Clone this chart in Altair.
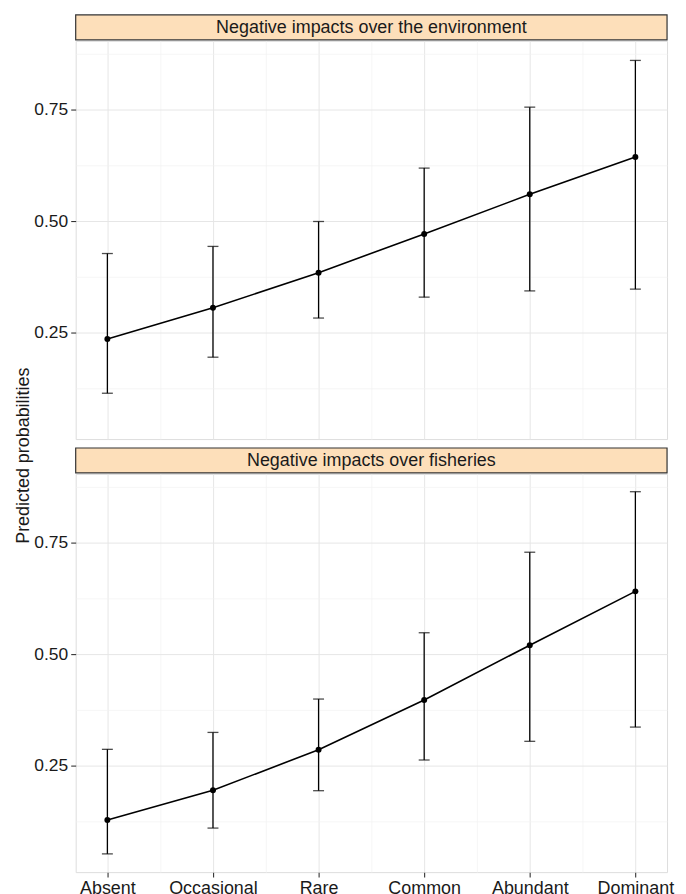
import altair as alt
import pandas as pd

FONT = "Liberation Sans, Arial, Helvetica, sans-serif"

categories = ["Absent", "Occasional", "Rare", "Common", "Abundant", "Dominant"]
panel_titles = ["Negative impacts over the environment", "Negative impacts over fisheries"]

env_mean = [0.235, 0.305, 0.384, 0.471, 0.560, 0.644]
env_lower = [0.113, 0.194, 0.282, 0.329, 0.343, 0.347]
env_upper = [0.427, 0.443, 0.499, 0.619, 0.756, 0.861]

fish_mean = [0.127, 0.194, 0.285, 0.397, 0.520, 0.641]
fish_lower = [0.051, 0.109, 0.193, 0.262, 0.304, 0.336]
fish_upper = [0.286, 0.324, 0.399, 0.548, 0.729, 0.865]

y_major = [0.25, 0.50, 0.75]
y_minor = [0.125, 0.375, 0.625, 0.875]
y_domain = [0.01, 0.905]
x_major = list(range(len(categories)))
x_minor = [i + 0.5 for i in range(len(categories) - 1)]
x_domain = [-0.3, len(categories) - 1 + 0.3]

W, H, STRIP = 594, 400, 26
STRIP_FILL = "#FDDFBA"

MAJ_GRID = "#e6e6e6"
MIN_GRID = "#f2f2f2"

cat_js = "[" + ",".join("'" + c + "'" for c in categories) + "]"
X_MINOR_TEST = "datum.value % 1 != 0"
Y_MINOR_TEST = "(datum.value * 8) % 2 == 1"


def x_axis(show):
    return alt.Axis(
        values=x_major + x_minor,
        labelExpr="datum.value % 1 == 0 ? " + cat_js + "[datum.value] : ''",
        labels=show,
        ticks=show,
        domain=False,
        title=None,
        grid=True,
        gridColor={"condition": {"test": X_MINOR_TEST, "value": MIN_GRID}, "value": MAJ_GRID},
        gridWidth={"condition": {"test": X_MINOR_TEST, "value": 0.7}, "value": 1.0},
        tickOpacity={"condition": {"test": X_MINOR_TEST, "value": 0}, "value": 1},
        tickSize=5,
        tickColor="#333333",
        tickWidth=1.1,
        labelPadding=2,
        labelFontSize=18,
        labelFont=FONT,
        labelColor="#1a1a1a",
        labelFlush=False,
        labelOverlap=False,
    )


y_axis = alt.Axis(
    values=y_major + y_minor,
    labelExpr=Y_MINOR_TEST + " ? '' : format(datum.value, '.2f')",
    title=None,
    domain=False,
    grid=True,
    gridColor={"condition": {"test": Y_MINOR_TEST, "value": MIN_GRID}, "value": MAJ_GRID},
    gridWidth={"condition": {"test": Y_MINOR_TEST, "value": 0.7}, "value": 1.0},
    tickOpacity={"condition": {"test": Y_MINOR_TEST, "value": 0}, "value": 1},
    tickSize=5,
    tickColor="#333333",
    tickWidth=1.1,
    labelPadding=3,
    labelFontSize=17.5,
    labelFont=FONT,
    labelColor="#1a1a1a",
    labelOverlap=False,
)


def panel(title, mean, lower, upper, show_x):
    df = pd.DataFrame({
        "idx": x_major,
        "category": categories,
        "mean": mean,
        "lower": lower,
        "upper": upper,
    })
    xs = alt.Scale(domain=x_domain, nice=False, zero=False)
    ys = alt.Scale(domain=y_domain, nice=False, zero=False)
    x = alt.X("idx:Q", scale=xs, axis=x_axis(show_x))
    base = alt.Chart(df)

    rules = base.mark_rule(color="black", strokeWidth=1.3).encode(
        x=x, y=alt.Y("lower:Q", scale=ys, axis=y_axis), y2="upper:Q"
    )
    cap_lo = base.mark_tick(color="black", size=11, thickness=1.3, orient="horizontal").encode(
        x=x, y=alt.Y("lower:Q", scale=ys, axis=y_axis)
    )
    cap_hi = base.mark_tick(color="black", size=11, thickness=1.3, orient="horizontal").encode(
        x=x, y=alt.Y("upper:Q", scale=ys, axis=y_axis)
    )
    line = base.mark_line(color="black", strokeWidth=1.6).encode(
        x=x, y=alt.Y("mean:Q", scale=ys, axis=y_axis)
    )
    pts = base.mark_circle(color="black", size=36, opacity=1).encode(
        x=x, y=alt.Y("mean:Q", scale=ys, axis=y_axis)
    )

    sdf = pd.DataFrame({"label": [title]})
    strip_rect = alt.Chart(sdf).mark_rect(
        fill=STRIP_FILL, stroke="#333333", strokeWidth=1.2
    ).encode(
        x=alt.value(0), x2=alt.value(W), y=alt.value(-STRIP), y2=alt.value(-1)
    )
    strip_text = alt.Chart(sdf).mark_text(
        font=FONT, fontSize=18, color="#1a1a1a", align="center", baseline="middle"
    ).encode(
        x=alt.value(W / 2), y=alt.value(-STRIP / 2), text="label:N"
    )

    return alt.layer(rules, cap_lo, cap_hi, line, pts, strip_rect, strip_text).properties(
        width=W, height=H
    )


top = panel(panel_titles[0], env_mean, env_lower, env_upper, False)
bottom = panel(panel_titles[1], fish_mean, fish_lower, fish_upper, True)

chart = alt.vconcat(top, bottom, spacing=6).properties(
    title=alt.TitleParams(
        "Predicted probabilities",
        orient="left",
        anchor="middle",
        fontSize=18,
        font=FONT,
        fontWeight="normal",
        color="#1a1a1a",
        offset=0,
    ),
    padding={"left": 7, "top": 3, "right": 3, "bottom": 0},
).configure_view(
    stroke="#333333", strokeWidth=1.3
).configure(background="white")

chart.save("out.html", embed_options={"renderer": "svg", "actions": False})
